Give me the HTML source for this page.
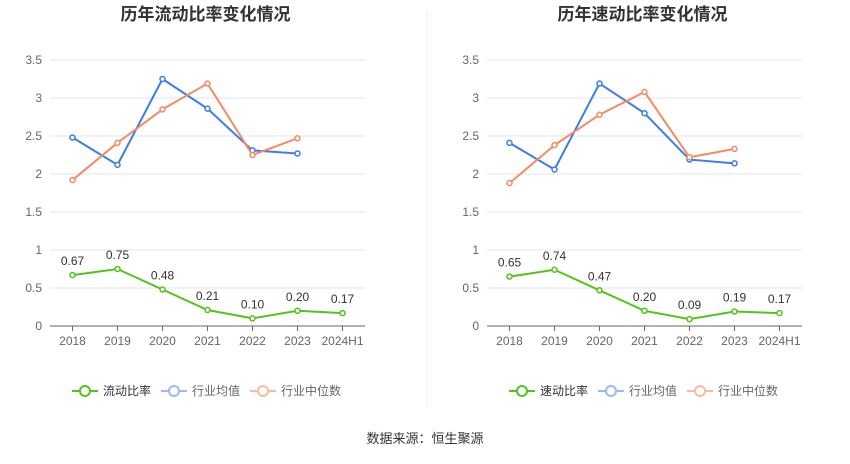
<!DOCTYPE html>
<html><head><meta charset="utf-8">
<style>
body{margin:0;width:850px;height:459px;background:#fff;overflow:hidden;font-family:"Liberation Sans","Noto Sans CJK SC",sans-serif;}
svg text{font-family:"Liberation Sans","Noto Sans CJK SC",sans-serif;}
</style></head>
<body>
<svg id="root" width="850" height="459">
<line x1="427" y1="10" x2="427" y2="408" stroke="#eee"/>
<text x="425" y="443" font-size="13" fill="#333" text-anchor="middle">数据来源：恒生聚源</text>
</svg>
<script>
const categories=["2018","2019","2020","2021","2022","2023","2024H1"];
const yTicks=[0,0.5,1,1.5,2,2.5,3,3.5];
const tickLabels=["0","0.5","1","1.5","2","2.5","3","3.5"];
const leftMain=[0.67,0.75,0.48,0.21,0.10,0.20,0.17];
const leftAvg=[2.48,2.12,3.25,2.86,2.31,2.27];
const leftMed=[1.92,2.41,2.85,3.19,2.25,2.47];
const rightMain=[0.65,0.74,0.47,0.20,0.09,0.19,0.17];
const rightAvg=[2.41,2.06,3.19,2.80,2.19,2.14];
const rightMed=[1.88,2.38,2.78,3.08,2.22,2.33];

const NS="http://www.w3.org/2000/svg";
const root=document.getElementById('root');
function mk(tag,attrs,parent){const e=document.createElementNS(NS,tag);for(const k in attrs)e.setAttribute(k,attrs[k]);(parent||root).appendChild(e);return e;}

function chart(x0,title,mainName,main,avg,med,prefix){
  const g=mk('g',{});
  
  
  const left=x0, right=x0+315, bottom=326, top=60;
  const y=v=>bottom-(v/3.5)*(bottom-top);
  const x=i=>left+22.5+i*45;
  const t=mk('text',{x:(left+right)/2-2,y:20,'font-size':17,'font-weight':'bold',fill:'#333','text-anchor':'middle'},g);
  t.textContent=title;
  
  
  yTicks.forEach((v,i)=>{
    if(v>0){const l=mk('line',{x1:left,x2:right,y1:y(v),y2:y(v),stroke:'#e3e6f0'},g);
    
    }
    const tx=mk('text',{x:left-8,y:y(v)+4,'font-size':12,fill:'#666','text-anchor':'end'},g);
    tx.textContent=tickLabels[i];
    
    
  });
  const ax=mk('line',{x1:left,x2:right,y1:bottom,y2:bottom,stroke:'#666'},g);
  
  
  categories.forEach((c,i)=>{
    const tk=mk('line',{x1:x(i),x2:x(i),y1:bottom,y2:bottom+5,stroke:'#666'},g);
    
    
    const tx=mk('text',{x:x(i),y:bottom+19,'font-size':12,fill:'#666','text-anchor':'middle'},g);
    tx.textContent=c;
    
    
  });
  function series(vals,color,name,labels){
    const p=mk('polyline',{points:vals.map((v,i)=>x(i)+','+y(v)).join(' '),fill:'none',stroke:color,'stroke-width':2},g);
    
    
    vals.forEach((v,i)=>{
      const c=mk('circle',{cx:x(i),cy:y(v),r:2.5,fill:'#fff',stroke:color,'stroke-width':1.5},g);
      
      
      if(labels){const tx=mk('text',{x:x(i),y:y(v)-10,'font-size':12,fill:'#333','text-anchor':'middle'},g);
      tx.textContent=v.toFixed(2);
      
      }
    });
  }
  series(avg,'#3b7de9',prefix+'-industry-avg',false);
  series(med,'#f58b62',prefix+'-industry-median',false);
  series(main,'#52c41a',prefix+'-main',true);
  const items=[[mainName,'#52c41a','#333'],['行业均值','#9bbaf2','#666'],['行业中位数','#f9baa0','#666']];
  let lx=left+22;
  items.forEach((it)=>{
    const lg=mk('g',{},g);
    
    
    mk('line',{x1:lx,x2:lx+26,y1:391,y2:391,stroke:it[1],'stroke-width':2},lg);
    mk('circle',{cx:lx+13,cy:391,r:5,fill:'#fff',stroke:it[1],'stroke-width':2},lg);
    const tx=mk('text',{x:lx+31,y:395,'font-size':12,fill:it[2]},lg);
    tx.textContent=it[0];
    lx+=31+it[0].length*12+10;
  });
}
chart(50,'历年流动比率变化情况','流动比率',leftMain,leftAvg,leftMed,'current-ratio');
chart(487,'历年速动比率变化情况','速动比率',rightMain,rightAvg,rightMed,'quick-ratio');
</script>
</body></html>
